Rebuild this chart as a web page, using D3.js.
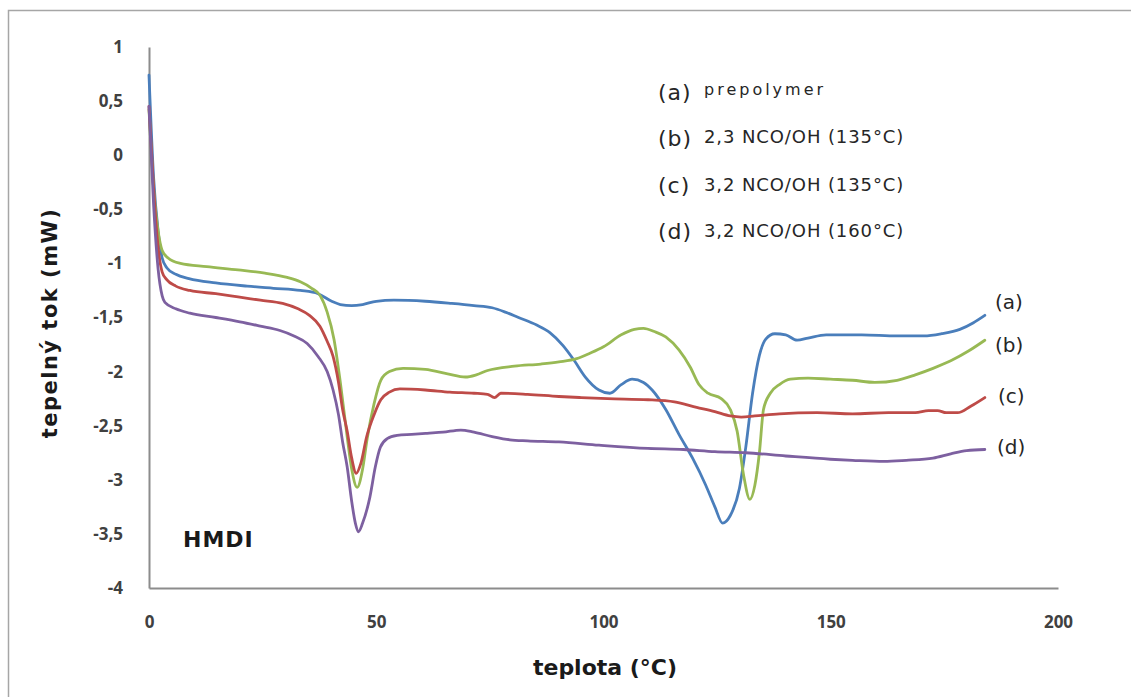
<!DOCTYPE html>
<html>
<head>
<meta charset="utf-8">
<script src="https://cdn.jsdelivr.net/npm/d3@7"></script>
<style>
  html, body { margin: 0; padding: 0; background: #fff; }
  svg { display: block; }
</style>
</head>
<body>
<svg id="chart" width="1131" height="697"></svg>
<script>
// DSC curves for HMDI-based samples: heat flow (mW) vs temperature (°C)
const seriesNames = ["(a)", "(b)", "(c)", "(d)"];
const legendLabels = ["prepolymer", "2,3 NCO/OH (135°C)", "3,2 NCO/OH (135°C)", "3,2 NCO/OH (160°C)"];
const seriesColors = ["#4A7EBB", "#98B954", "#BE4B48", "#7D60A0"];

const xTicks = [0, 50, 100, 150, 200];
const yTicks = [1, 0.5, 0, -0.5, -1, -1.5, -2, -2.5, -3, -3.5, -4];

// (a) prepolymer  [temperature, heat flow]
const curveA = [
  [0, 0.74], [1, -0.2], [2, -0.7], [2.9, -0.95], [3.9, -1.04], [5.9, -1.1], [8.8, -1.14],
  [14.7, -1.18], [21.6, -1.21], [27.4, -1.23], [33.3, -1.25], [37.2, -1.28], [40.2, -1.35],
  [42.1, -1.38], [44.6, -1.39], [47, -1.38], [50, -1.35], [53.9, -1.34], [60.8, -1.35],
  [66.6, -1.37], [71.5, -1.39], [75.5, -1.41], [78.4, -1.45], [81.3, -1.5], [85.3, -1.57],
  [88.2, -1.64], [91.1, -1.76], [93.6, -1.9], [96, -2.05], [99, -2.17], [101.4, -2.2],
  [103.9, -2.12], [106.3, -2.07], [108.8, -2.1], [110.7, -2.17], [113.7, -2.35], [116.6, -2.58],
  [119.6, -2.8], [122.5, -3.05], [124.5, -3.25], [126.2, -3.4], [127.9, -3.33], [129.9, -3.08],
  [131.3, -2.7], [132.8, -2.2], [134.3, -1.85], [135.7, -1.7], [137.7, -1.65], [140.1, -1.66],
  [142.6, -1.71], [145, -1.69], [149, -1.66], [156.8, -1.66], [164.6, -1.67], [170.5, -1.67],
  [174.4, -1.65], [178.4, -1.61], [181.3, -1.55], [183.9, -1.48]
];

// (b) 2,3 NCO/OH (135°C)
const curveB = [
  [0, 0.42], [1, -0.3], [2, -0.7], [2.9, -0.88], [4.2, -0.95], [6.9, -1.0], [12.7, -1.03],
  [19.6, -1.06], [25.5, -1.09], [30.4, -1.13], [33.3, -1.17], [35.8, -1.23], [37.7, -1.3],
  [39.2, -1.45], [40.7, -1.7], [42.1, -2.1], [43.6, -2.6], [44.6, -2.9], [45.8, -3.07],
  [47, -2.9], [48, -2.62], [49.5, -2.3], [51, -2.08], [52.9, -2.0], [55.9, -1.97],
  [60.8, -1.98], [65.7, -2.02], [69.6, -2.05], [72, -2.03], [74.5, -1.99], [80.4, -1.95],
  [86.2, -1.93], [90.2, -1.91], [94.1, -1.88], [97, -1.83], [100, -1.77], [103.9, -1.66],
  [106.8, -1.61], [108.8, -1.6], [111.2, -1.63], [113.7, -1.68], [116.6, -1.8], [119.1, -1.96],
  [121, -2.12], [123, -2.2], [125.9, -2.25], [127.9, -2.35], [129.4, -2.55], [130.8, -2.95],
  [132.2, -3.18], [133.3, -3.05], [134.3, -2.75], [135.2, -2.35], [136.7, -2.2], [138.7, -2.12],
  [141.1, -2.07], [145, -2.06], [149.9, -2.07], [154.8, -2.08], [159.7, -2.1], [164.6, -2.08],
  [168.6, -2.03], [172.5, -1.97], [176.4, -1.9], [180.3, -1.81], [183.9, -1.71]
];

// (c) 3,2 NCO/OH (135°C)
const curveC = [
  [0, 0.45], [1, -0.3], [2, -0.85], [2.9, -1.08], [3.9, -1.15], [5.9, -1.21], [9, -1.25],
  [14.7, -1.28], [19.6, -1.31], [24.5, -1.34], [29.4, -1.37], [32.8, -1.42], [35.3, -1.48],
  [37.6, -1.58], [39.2, -1.72], [40.5, -1.86], [41.7, -2.1], [42.6, -2.35], [43.6, -2.55],
  [44.6, -2.8], [45.6, -2.94], [46.6, -2.85], [47.9, -2.6], [49.5, -2.4], [51, -2.26],
  [52.9, -2.19], [55.2, -2.16], [60.8, -2.17], [66.2, -2.19], [71.5, -2.2], [74.5, -2.21],
  [76, -2.24], [77.4, -2.2], [83.3, -2.21], [90.2, -2.23], [95.1, -2.24], [100.9, -2.25],
  [109.8, -2.26], [115.6, -2.28], [120.5, -2.33], [124.5, -2.37], [127.9, -2.41], [130.3, -2.42],
  [133.3, -2.41], [138.7, -2.39], [147, -2.38], [154.8, -2.39], [162.7, -2.38], [168.6, -2.38],
  [171.5, -2.36], [173.5, -2.36], [175.4, -2.38], [177.9, -2.38], [180.8, -2.32], [183.9, -2.24]
];

// (d) 3,2 NCO/OH (160°C)
const curveD = [
  [0, 0.45], [1, -0.45], [2, -1.05], [2.9, -1.3], [3.5, -1.36], [5.9, -1.42], [9, -1.46],
  [14.7, -1.5], [20, -1.54], [24.5, -1.58], [28.8, -1.62], [31.9, -1.67], [34.8, -1.74],
  [37.2, -1.86], [39.2, -2.0], [40.5, -2.17], [41.7, -2.4], [42.6, -2.65], [43.6, -2.88],
  [44.6, -3.2], [45.4, -3.4], [46.1, -3.48], [47, -3.4], [48.6, -3.16], [49.8, -2.88],
  [50.9, -2.7], [52.4, -2.62], [54.6, -2.59], [57.8, -2.58], [61.2, -2.57], [64.7, -2.56],
  [68.6, -2.54], [71.5, -2.56], [75.5, -2.6], [79.4, -2.63], [83.3, -2.64], [90.2, -2.65],
  [99, -2.68], [109.8, -2.71], [117.6, -2.72], [124.5, -2.74], [131.3, -2.75], [140.1, -2.78],
  [149.9, -2.81], [154.8, -2.82], [161.7, -2.83], [166.6, -2.82], [172.5, -2.8], [176.4, -2.76],
  [179.9, -2.73], [183.9, -2.72]
];

const curves = [curveA, curveB, curveC, curveD];

const svg = d3.select("#chart");

// outer chart frame
svg.append("rect")
  .attr("x", 8.5).attr("y", 10.5)
  .attr("width", 1140).attr("height", 700)
  .attr("fill", "#fff")
  .attr("stroke", "#A6A6A6")
  .attr("stroke-width", 1.5);

const x = d3.scaleLinear().domain([0, 200]).range([149, 1058]);
const y = d3.scaleLinear().domain([-4, 1]).range([588, 47]);

const czLocale = d3.formatLocale({ decimal: ",", thousands: " ", grouping: [3], currency: ["", ""], minus: "-" });
const fmt = czLocale.format("~g");

const tickFont = "'Open Sans', 'DejaVu Sans', sans-serif";

// y axis
const gy = svg.append("g")
  .attr("transform", `translate(${x(0)},0)`)
  .call(d3.axisLeft(y).tickValues(yTicks).tickSize(0).tickPadding(26).tickFormat(fmt));
gy.select(".domain").attr("stroke", "#8C8C8C").attr("stroke-width", 2);
gy.selectAll("text")
  .attr("font-family", tickFont).attr("font-size", 17).attr("font-weight", 700)
  .attr("fill", "#404040");

// x axis
const gx = svg.append("g")
  .attr("transform", `translate(0,${y(-4)})`)
  .call(d3.axisBottom(x).tickValues(xTicks).tickSize(0).tickPadding(28).tickFormat(fmt));
gx.select(".domain").attr("stroke", "#8C8C8C").attr("stroke-width", 2);
gx.selectAll("text")
  .attr("font-family", tickFont).attr("font-size", 17).attr("font-weight", 700)
  .attr("fill", "#404040");

// curves
const line = d3.line()
  .x(d => x(d[0]))
  .y(d => y(d[1]))
  .curve(d3.curveMonotoneX);

svg.append("g").selectAll("path")
  .data(curves)
  .join("path")
  .attr("d", line)
  .attr("fill", "none")
  .attr("stroke", (d, i) => seriesColors[i])
  .attr("stroke-width", 2.8)
  .attr("stroke-linejoin", "round")
  .attr("stroke-linecap", "round");

// curve end labels
const endLabelPos = [[995, 309], [995, 352], [998, 403], [997, 454]];
svg.append("g").selectAll("text")
  .data(seriesNames)
  .join("text")
  .attr("x", (d, i) => endLabelPos[i][0])
  .attr("y", (d, i) => endLabelPos[i][1])
  .attr("font-family", "'DejaVu Sans', sans-serif")
  .attr("font-size", 20)
  .attr("fill", "#262626")
  .text(d => d);

// legend block
const legendRows = [[100, 95], [146, 143], [193, 191], [239, 237]];
const lg = svg.append("g");
lg.selectAll("text.key")
  .data(seriesNames)
  .join("text")
  .attr("class", "key")
  .attr("x", 658)
  .attr("y", (d, i) => legendRows[i][0])
  .attr("font-family", "'DejaVu Sans', sans-serif")
  .attr("font-size", 22)
  .attr("letter-spacing", 1)
  .attr("fill", "#262626")
  .text(d => d);
lg.selectAll("text.desc")
  .data(legendLabels)
  .join("text")
  .attr("class", "desc")
  .attr("x", 704)
  .attr("y", (d, i) => legendRows[i][1])
  .attr("font-family", "'DejaVu Sans', sans-serif")
  .attr("font-size", (d, i) => i === 0 ? 16 : 18)
  .attr("letter-spacing", (d, i) => i === 0 ? 3 : 0.9)
  .attr("fill", "#262626")
  .text(d => d);

// sample annotation
svg.append("text")
  .attr("x", 183).attr("y", 547)
  .attr("font-family", "'DejaVu Sans', sans-serif")
  .attr("font-weight", "bold")
  .attr("font-size", 22)
  .attr("letter-spacing", 1)
  .attr("fill", "#1a1a1a")
  .text("HMDI");

// axis titles
svg.append("text")
  .attr("transform", "translate(57,323) rotate(-90)")
  .attr("text-anchor", "middle")
  .attr("font-family", "'DejaVu Sans', sans-serif")
  .attr("font-weight", "bold")
  .attr("font-size", 21)
  .attr("letter-spacing", 1.5)
  .attr("fill", "#1a1a1a")
  .text("tepelný tok (mW)");

svg.append("text")
  .attr("x", 605).attr("y", 675)
  .attr("text-anchor", "middle")
  .attr("font-family", "'DejaVu Sans', sans-serif")
  .attr("font-weight", "bold")
  .attr("font-size", 22)
  .attr("fill", "#1a1a1a")
  .text("teplota (°C)");
</script>
</body>
</html>
